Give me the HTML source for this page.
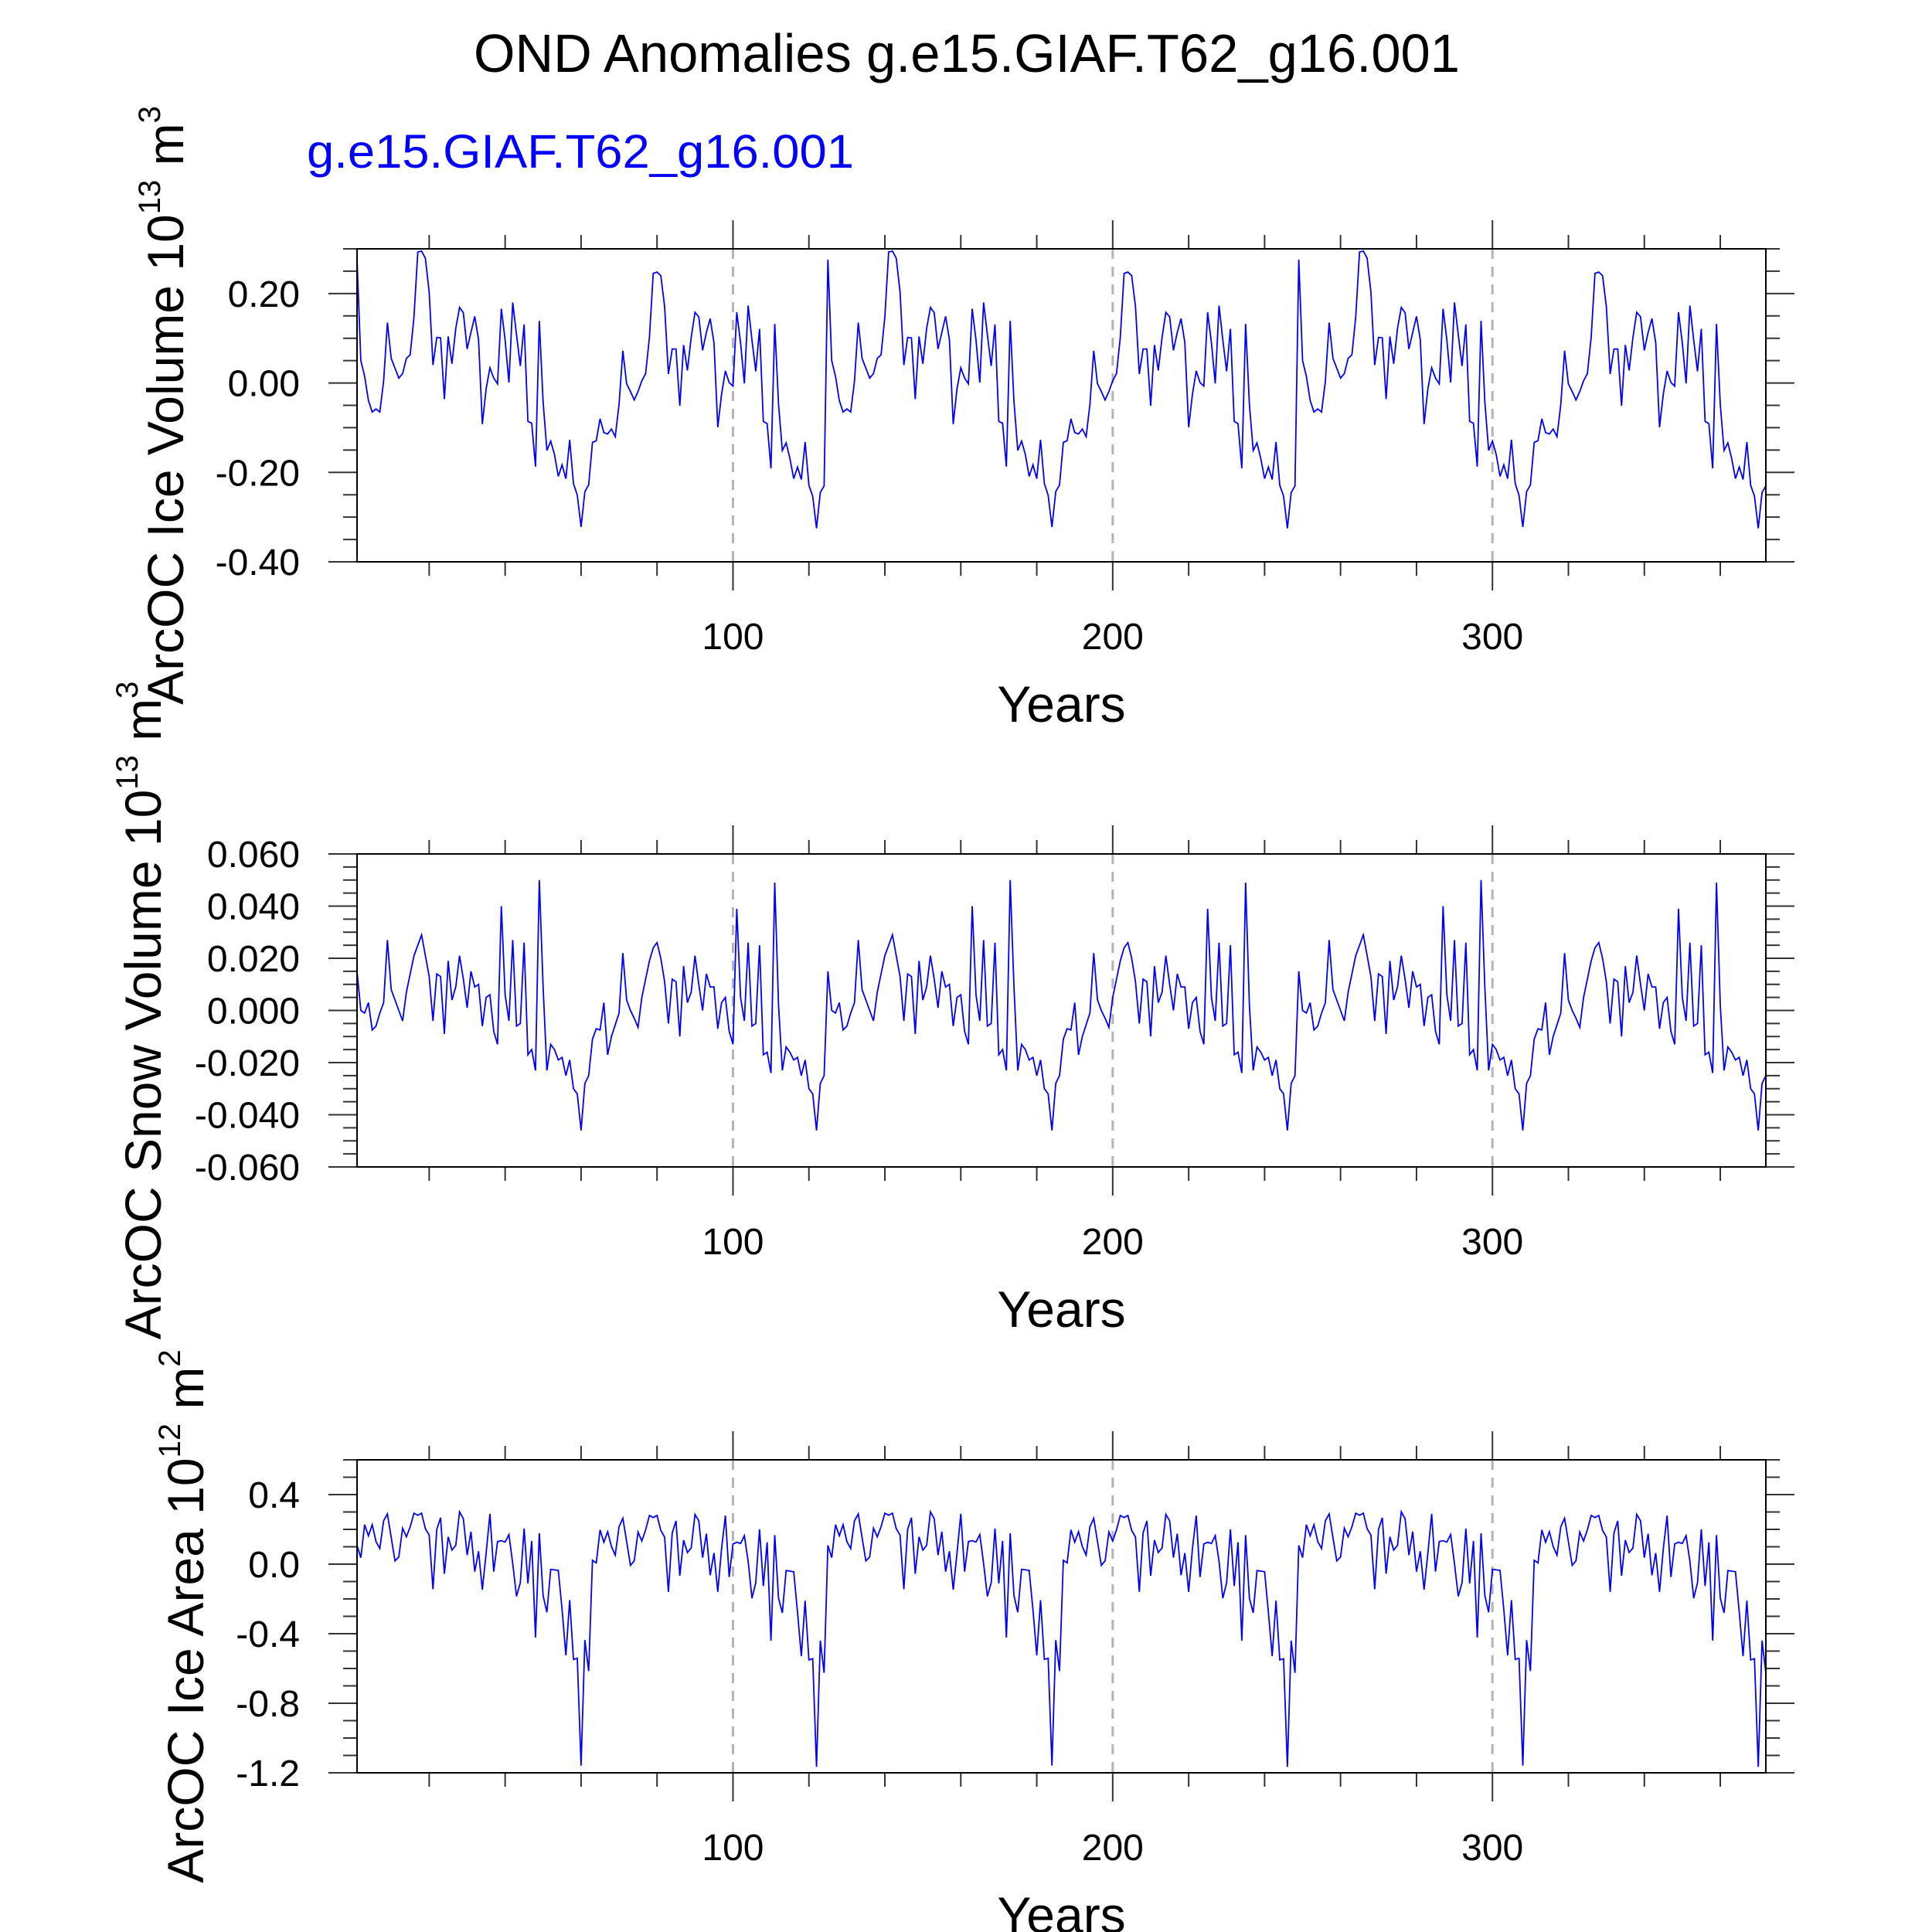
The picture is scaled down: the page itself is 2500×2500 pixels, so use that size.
<!DOCTYPE html>
<html><head><meta charset="utf-8"><style>
html,body{margin:0;padding:0;background:#fff;}
svg{display:block;font-family:"Liberation Sans",Arial,sans-serif;}
</style></head>
<body>
<svg id="chart" width="2500" height="2500" viewBox="0 0 2500 2500" xmlns="http://www.w3.org/2000/svg">
<rect x="0" y="0" width="2500" height="2500" fill="#fff"/>
<text x="1251" y="93" font-size="70" text-anchor="middle" textLength="1276" lengthAdjust="spacingAndGlyphs">OND Anomalies g.e15.GIAF.T62_g16.001</text>
<text x="397" y="217" font-size="61" fill="#0000ff" textLength="708" lengthAdjust="spacingAndGlyphs">g.e15.GIAF.T62_g16.001</text>
<g id="panels"></g>
</svg>
<script>
// Years 1..124; the series repeat this 124-year forcing cycle three times
const iceVolCycleA = [0.276,0.050,0.015,-0.039,-0.065,-0.058,-0.065,0.004,0.135,0.055,0.033,0.011,0.021,0.055,0.063,0.148,0.293,0.295,0.279,0.203,0.040,0.102,0.101,-0.036,0.104,0.043,0.122,0.169,0.157,0.076,0.113,0.149,0.097,-0.092,-0.013,0.034,0.011,-0.002,0.166,0.096,0.001,0.180,0.108,0.038,0.131,-0.086,-0.090,-0.187,0.139,-0.042,-0.151,-0.130,-0.160,-0.209,-0.183,-0.214,-0.127,-0.225,-0.251,-0.322,-0.243,-0.228];
const iceVolCycleB = [-0.133,-0.129,-0.080,-0.111,-0.114,-0.103,-0.120,-0.048,0.072,-0.002,-0.019,-0.038,-0.019,0.005,0.021,0.102,0.245,0.248,0.240,0.171,0.020,0.076,0.076,-0.051,0.085,0.028,0.102,0.158,0.148,0.073,0.113,0.144,0.090,-0.099,-0.025,0.027,0.001,-0.007,0.158,0.090,-0.001,0.173,0.096,0.026,0.121,-0.086,-0.091,-0.191,0.132,-0.048,-0.151,-0.134,-0.169,-0.214,-0.188,-0.216,-0.132,-0.229,-0.253,-0.325,-0.245,-0.230];
const snowVolCycleA = [0.015,0.000,-0.001,0.003,-0.0075,-0.006,-0.001,0.003,0.027,0.008,0.004,0.000,-0.004,0.007,0.014,0.021,0.025,0.029,0.021,0.013,-0.004,0.014,0.013,-0.009,0.019,0.004,0.009,0.021,0.012,0.001,0.015,0.009,0.010,-0.006,0.005,0.006,-0.008,-0.013,0.040,0.006,-0.004,0.027,-0.006,-0.005,0.026,-0.017,-0.015,-0.023,0.050,0.009,-0.023,-0.013,-0.015,-0.019,-0.018,-0.025,-0.019,-0.030,-0.032,-0.046,-0.028,-0.025];
const snowVolCycleB = [-0.011,-0.007,-0.0075,0.003,-0.017,-0.010,-0.0055,-0.001,0.022,0.004,0.000,-0.003,-0.0065,0.005,0.012,0.019,0.024,0.026,0.020,0.011,-0.005,0.012,0.011,-0.010,0.017,0.003,0.007,0.021,0.010,0.000,0.014,0.009,0.009,-0.007,0.003,0.005,-0.008,-0.013,0.039,0.005,-0.004,0.026,-0.006,-0.005,0.025,-0.017,-0.016,-0.024,0.049,0.002,-0.023,-0.014,-0.016,-0.019,-0.018,-0.025,-0.019,-0.030,-0.032,-0.046,-0.028,-0.025];
const iceAreaCycleA = [0.108,0.037,0.227,0.163,0.227,0.130,0.090,0.249,0.289,0.153,0.019,0.041,0.207,0.157,0.215,0.293,0.281,0.293,0.204,0.167,-0.144,0.200,0.267,-0.055,0.157,0.081,0.108,0.301,0.261,0.052,0.187,-0.043,0.074,-0.147,0.064,0.289,-0.043,0.130,0.135,0.127,0.170,0.004,-0.185,-0.107,0.204,-0.111,0.133,-0.422,0.178,-0.181,-0.277,-0.030,-0.033,-0.036,-0.262,-0.524,-0.207,-0.548,-0.541,-1.159,-0.437,-0.615];
const iceAreaCycleB = [0.022,0.007,0.197,0.126,0.187,0.101,0.052,0.215,0.264,0.130,-0.007,0.019,0.185,0.133,0.197,0.280,0.268,0.280,0.194,0.156,-0.159,0.179,0.249,-0.067,0.138,0.067,0.093,0.286,0.249,0.037,0.175,-0.064,0.064,-0.159,0.089,0.279,-0.074,0.116,0.126,0.119,0.164,0.016,-0.196,-0.107,0.200,-0.126,0.126,-0.440,0.167,-0.196,-0.280,-0.037,-0.040,-0.044,-0.277,-0.529,-0.210,-0.551,-0.544,-1.166,-0.440,-0.625];
const iceVolTicks = [-0.40,-0.20,0.00,0.20];
const snowVolTicks = [-0.060,-0.040,-0.020,0.000,0.020,0.040,0.060];
const iceAreaTicks = [-1.2,-0.8,-0.4,0.0,0.4];
const xTickLabels = [100,200,300];

const iceVol = [].concat(iceVolCycleA, iceVolCycleB, iceVolCycleA, iceVolCycleB, iceVolCycleA, iceVolCycleB);
const snowVol = [].concat(snowVolCycleA, snowVolCycleB, snowVolCycleA, snowVolCycleB, snowVolCycleA, snowVolCycleB);
const iceArea = [].concat(iceAreaCycleA, iceAreaCycleB, iceAreaCycleA, iceAreaCycleB, iceAreaCycleA, iceAreaCycleB);

const NS = "http://www.w3.org/2000/svg";
const root = document.getElementById('panels');
function mk(tag, attrs, parent) {
  const e = document.createElementNS(NS, tag);
  for (const k in attrs) e.setAttribute(k, attrs[k]);
  (parent || root).appendChild(e);
  return e;
}
const L = 462, R = 2285, XMIN = 1, XMAX = 372;
function xs(v) { return L + (v - XMIN) / (XMAX - XMIN) * (R - L); }

const panels = [
  {key:'ice-volume', data:iceVol, top:322, bot:727, ymin:-0.40, ymax:0.30, ticks:iceVolTicks, minor:0.05, dec:2, labelX:237, label:'ArcOC Ice Volume 10', sup1:'13', unit:' m', sup2:'3'},
  {key:'snow-volume', data:snowVol, top:1105, bot:1510, ymin:-0.06, ymax:0.06, ticks:snowVolTicks, minor:0.005, dec:3, labelX:208, label:'ArcOC Snow Volume 10', sup1:'13', unit:' m', sup2:'3'},
  {key:'ice-area', data:iceArea, top:1889, bot:2294, ymin:-1.2, ymax:0.6, ticks:iceAreaTicks, minor:0.1, dec:1, labelX:263, label:'ArcOC Ice Area 10', sup1:'12', unit:' m', sup2:'2'}
];

panels.forEach(function(p) {
  const g = mk('g', {});
  
  
  function ys(v) { return p.bot - (v - p.ymin) / (p.ymax - p.ymin) * (p.bot - p.top); }
  // grid dashed lines
  xTickLabels.forEach(function(t) {
    const gl = mk('line', {x1:xs(t), x2:xs(t), y1:p.top, y2:p.bot, stroke:'#b4b4b4', 'stroke-width':3, 'stroke-dasharray':'13 10'}, g);
    
    
  });
  // x ticks (top and bottom, outward)
  for (let t = 20; t <= 360; t += 20) {
    const major = (t % 100 === 0);
    const len = major ? 37 : 18;
    mk('line', {x1:xs(t), x2:xs(t), y1:p.top, y2:p.top - len, stroke:'#333', 'stroke-width':2}, g);
    mk('line', {x1:xs(t), x2:xs(t), y1:p.bot, y2:p.bot + len, stroke:'#333', 'stroke-width':2}, g);
  }
  // y ticks (left and right, outward)
  const n = Math.round((p.ymax - p.ymin) / p.minor);
  for (let i = 0; i <= n; i++) {
    const v = p.ymin + i * p.minor;
    const major = p.ticks.some(function(t){ return Math.abs(t - v) < p.minor * 0.01; });
    const len = major ? 37 : 18;
    mk('line', {x1:L, x2:L - len, y1:ys(v), y2:ys(v), stroke:'#333', 'stroke-width':2}, g);
    mk('line', {x1:R, x2:R + len, y1:ys(v), y2:ys(v), stroke:'#333', 'stroke-width':2}, g);
  }
  // y tick labels
  p.ticks.forEach(function(t) {
    const tx = mk('text', {x:388, y:ys(t) + 17, 'font-size':48, 'text-anchor':'end'}, g);
    
    
    tx.textContent = t.toFixed(p.dec);
  });
  // x tick labels
  xTickLabels.forEach(function(t) {
    const tx = mk('text', {x:xs(t), y:p.bot + 113, 'font-size':48, 'text-anchor':'middle'}, g);
    
    
    tx.textContent = t;
  });
  // x axis title
  const xt = mk('text', {x:(L + R) / 2, y:p.bot + 207, 'font-size':66, 'text-anchor':'middle'}, g);
  
  
  xt.textContent = 'Years';
  // y axis title
  const yt = mk('text', {x:0, y:0, 'font-size':66, 'text-anchor':'middle', transform:'translate(' + p.labelX + ',' + ((p.top + p.bot) / 2) + ') rotate(-90)'}, g);
  
  
  const t1 = mk('tspan', {}, yt); t1.textContent = p.label;
  const t2 = mk('tspan', {dy:-30, 'font-size':40}, yt); t2.textContent = p.sup1;
  const t3 = mk('tspan', {dy:30}, yt); t3.textContent = p.unit;
  const t4 = mk('tspan', {dy:-30, 'font-size':40}, yt); t4.textContent = p.sup2;
  // series line
  let d = '';
  p.data.forEach(function(v, i) { d += (i ? 'L' : 'M') + xs(i + 1).toFixed(2) + ' ' + ys(v).toFixed(2); });
  const ln = mk('path', {d:d, fill:'none', stroke:'#0000ff', 'stroke-width':1.8, 'stroke-linejoin':'miter'}, g);
  
  
  // frame
  const fr = mk('rect', {x:L, y:p.top, width:R - L, height:p.bot - p.top, fill:'none', stroke:'#000', 'stroke-width':2}, g);
  
  
});
</script>
</body></html>
